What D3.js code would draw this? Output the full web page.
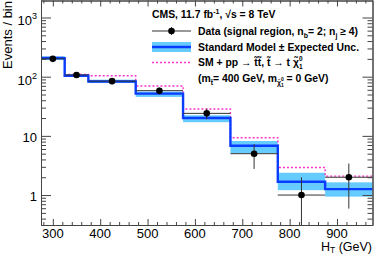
<!DOCTYPE html>
<html lang="en">
<head>
    <meta charset="UTF-8">
    <title>HT signal region</title>
    <script src="https://cdn.jsdelivr.net/npm/d3@7"></script>
    <style>
        body{
            margin: 0;
            background: #fff;
        }
        text{
            font-family: "Liberation Sans", Arial, sans-serif;
        }
        .leg{
            font-size: 10.4px;
            font-weight: bold;
        }
        .tick-lab{
            font-size: 13px;
        }
    </style>
</head>
<body>
<svg id="main" width="374" height="254"></svg>

<script>
    // bins in HT (GeV)
    let binEdges = [275, 325, 375, 475, 575, 675, 775, 875, 975];
    let binCenters = [300, 350, 425, 525, 625, 725, 825, 925];

    // observed data and stat. errors
    let dataVals = [200, 107, 84, 58, 24, 5, 1, 2];
    let dataErr = [14.1, 10.3, 9.2, 7.6, 4.9, 2.24, 1, 1.41];

    // standard model prediction with band
    let smVals = [206, 104, 83, 51.7, 20.1, 6.8, 1.68, 1.26];
    let smLow = [191, 99, 78, 45.5, 17, 5.1, 1.21, 0.94];
    let smHigh = [223, 111, 89, 56, 22.3, 8.2, 2.38, 1.64];

    // SM + stop pair signal
    let sigVals = [212, 109, 104, 69.7, 28.5, 9.3, 2.93, 2.09];

    let xTicks = [300, 400, 500, 600, 700, 800, 900];
    let yTicks = [1, 10, 100, 1000];

    let svg = d3.select("#main");

    let x = d3.scaleLinear().domain([275, 975]).range([41, 372.5]);
    let y = d3.scaleLog().domain([0.312, 1975]).range([225, 0]);

    let blue = "#0a3cff";
    let band = "#66ccff";
    let pink = "#ff33cc";
    let axisCol = "#444";

    // uncertainty band
    svg.append("g")
        .selectAll("rect")
        .data(smVals)
        .enter()
        .append("rect")
        .attr("x", (d, i) => x(binEdges[i]))
        .attr("width", (d, i) => x(binEdges[i + 1]) - x(binEdges[i]))
        .attr("y", (d, i) => y(smHigh[i]))
        .attr("height", (d, i) => y(smLow[i]) - y(smHigh[i]))
        .attr("fill", band);

    function stepPoints(vals){
        let pts = vals.map((v, i) => [binEdges[i], v]);
        pts.push([binEdges[binEdges.length - 1], vals[vals.length - 1]]);
        return pts;
    }

    let stepLine = d3.line()
        .x(d => x(d[0]))
        .y(d => y(d[1]))
        .curve(d3.curveStepAfter);

    // signal
    svg.append("path")
        .attr("d", stepLine(stepPoints(sigVals)))
        .attr("fill", "none")
        .attr("stroke", pink)
        .attr("stroke-width", 1.4)
        .attr("stroke-dasharray", "2,2");

    // SM
    svg.append("path")
        .attr("d", stepLine(stepPoints(smVals)))
        .attr("fill", "none")
        .attr("stroke", blue)
        .attr("stroke-width", 2.4);

    // data
    let gData = svg.append("g");
    gData.selectAll(".xerr")
        .data(dataVals)
        .enter()
        .append("line")
        .attr("x1", (d, i) => x(binEdges[i]))
        .attr("x2", (d, i) => x(binEdges[i + 1]))
        .attr("y1", d => y(d))
        .attr("y2", d => y(d))
        .attr("stroke", "#333")
        .attr("stroke-width", 1);
    gData.selectAll(".yerr")
        .data(dataVals)
        .enter()
        .append("line")
        .attr("x1", (d, i) => x(binCenters[i]))
        .attr("x2", (d, i) => x(binCenters[i]))
        .attr("y1", (d, i) => y(d + dataErr[i]))
        .attr("y2", (d, i) => d - dataErr[i] > 0.312 ? y(d - dataErr[i]) : 225)
        .attr("stroke", "#333")
        .attr("stroke-width", 1);
    gData.selectAll("circle")
        .data(dataVals)
        .enter()
        .append("circle")
        .attr("cx", (d, i) => x(binCenters[i]))
        .attr("cy", d => y(d))
        .attr("r", 3.3)
        .attr("fill", "#000");

    // axes
    let yMinor = [];
    [0.1, 1, 10, 100, 1000].forEach(dec => {
        for (let k = 2; k <= 9; k++){
            let v = dec * k;
            if (v > 0.312 && v < 1975) yMinor.push(v);
        }
    });
    let xMinor = d3.range(280, 975, 20).filter(v => v % 100 !== 0);

    function styleAxis(g){
        g.selectAll("path").attr("stroke", axisCol);
        g.selectAll("line").attr("stroke", axisCol);
    }

    svg.append("g").attr("transform", "translate(41,0)")
        .call(d3.axisLeft(y).tickValues(yTicks).tickSize(-10).tickFormat("").tickSizeOuter(0))
        .call(styleAxis);
    svg.append("g").attr("transform", "translate(41,0)")
        .call(d3.axisLeft(y).tickValues(yMinor).tickSize(-5).tickFormat("").tickSizeOuter(0))
        .call(styleAxis);
    svg.append("g").attr("transform", "translate(372.5,0)")
        .call(d3.axisRight(y).tickValues(yTicks).tickSize(-10).tickFormat("").tickSizeOuter(0))
        .call(styleAxis);
    svg.append("g").attr("transform", "translate(372.5,0)")
        .call(d3.axisRight(y).tickValues(yMinor).tickSize(-5).tickFormat("").tickSizeOuter(0))
        .call(styleAxis);

    svg.append("g").attr("transform", "translate(0,225)")
        .call(d3.axisBottom(x).tickValues(xTicks).tickSize(-6).tickFormat("").tickSizeOuter(0))
        .call(styleAxis);
    svg.append("g").attr("transform", "translate(0,225)")
        .call(d3.axisBottom(x).tickValues(xMinor).tickSize(-3).tickFormat("").tickSizeOuter(0))
        .call(styleAxis);
    svg.append("g").attr("transform", "translate(0,0.5)")
        .call(d3.axisTop(x).tickValues(xTicks).tickSize(-6).tickFormat("").tickSizeOuter(0))
        .call(styleAxis);
    svg.append("g").attr("transform", "translate(0,0.5)")
        .call(d3.axisTop(x).tickValues(xMinor).tickSize(-3).tickFormat("").tickSizeOuter(0))
        .call(styleAxis);

    // tick labels
    svg.append("g").selectAll("text")
        .data(xTicks)
        .enter()
        .append("text")
        .attr("class", "tick-lab")
        .attr("x", d => x(d))
        .attr("y", 238)
        .attr("text-anchor", "middle")
        .text(d => d);

    let yLab = svg.append("g");
    yTicks.forEach(v => {
        let t = yLab.append("text")
            .attr("class", "tick-lab")
            .attr("x", 37)
            .attr("y", y(v) + 6)
            .attr("text-anchor", "end");
        if (v < 100){
            t.text(v);
        } else {
            t.attr("y", y(v) + 8);
            t.append("tspan").text("10");
            t.append("tspan").attr("dy", -6).attr("font-size", "9px").text(Math.round(Math.log10(v)));
        }
    });

    // axis titles
    let xTitle = svg.append("text")
        .attr("x", 372)
        .attr("y", 250.5)
        .attr("text-anchor", "end")
        .attr("font-size", "12.5px");
    xTitle.append("tspan").text("H");
    xTitle.append("tspan").attr("dy", 2.5).attr("font-size", "8.5px").text("T");
    xTitle.append("tspan").attr("dy", -2.5).text(" (GeV)");

    svg.append("text")
        .attr("transform", "translate(12,1) rotate(-90)")
        .attr("text-anchor", "end")
        .attr("font-size", "13px")
        .text("Events / bin");

    // legend
    let leg = svg.append("g");
    let head = leg.append("text").attr("class", "leg").attr("x", 152).attr("y", 18);
    head.append("tspan").text("CMS, 11.7 fb");
    head.append("tspan").attr("dy", -4).attr("font-size", "7px").text("-1");
    head.append("tspan").attr("dy", 4).text(", \u221As = 8 TeV");

    // data entry
    leg.append("line").attr("x1", 152).attr("x2", 191).attr("y1", 31).attr("y2", 31)
        .attr("stroke", "#333");
    leg.append("line").attr("x1", 171.5).attr("x2", 171.5).attr("y1", 27).attr("y2", 35)
        .attr("stroke", "#333");
    leg.append("circle").attr("cx", 171.5).attr("cy", 31).attr("r", 3.3).attr("fill", "#000");
    let t1 = leg.append("text").attr("class", "leg").attr("x", 198).attr("y", 35);
    t1.append("tspan").text("Data (signal region, n");
    t1.append("tspan").attr("dy", 2.5).attr("font-size", "7px").text("b");
    t1.append("tspan").attr("dy", -2.5).text("= 2; n");
    t1.append("tspan").attr("dy", 2.5).attr("font-size", "7px").text("j");
    t1.append("tspan").attr("dy", -2.5).text(" \u2265 4)");

    // SM entry
    leg.append("rect").attr("x", 152).attr("y", 42).attr("width", 39).attr("height", 10).attr("fill", band);
    leg.append("line").attr("x1", 152).attr("x2", 191).attr("y1", 47).attr("y2", 47)
        .attr("stroke", blue).attr("stroke-width", 2.4);
    leg.append("text").attr("class", "leg").attr("x", 198).attr("y", 50.5)
        .text("Standard Model \u00B1 Expected Unc.");

    // signal entry
    leg.append("line").attr("x1", 152).attr("x2", 191).attr("y1", 62.5).attr("y2", 62.5)
        .attr("stroke", pink).attr("stroke-width", 1.4).attr("stroke-dasharray", "2,2");
    let t3 = leg.append("text").attr("class", "leg").attr("x", 198).attr("y", 66);
    t3.append("tspan").text("SM + pp \u2192 t\u0303t\u0303, t\u0303 \u2192 t \u03C7\u0303");
    t3.append("tspan").attr("dy", -5).attr("font-size", "6.5px").text("0");
    t3.append("tspan").attr("dx", -3.6).attr("dy", 8).attr("font-size", "6.5px").text("1");

    let t4 = leg.append("text").attr("class", "leg").attr("x", 198).attr("y", 82);
    t4.append("tspan").text("(m");
    t4.append("tspan").attr("dy", 3).attr("font-size", "7px").text("t\u0303");
    t4.append("tspan").attr("dy", -3).text("= 400 GeV, m");
    t4.append("tspan").attr("dy", 3).attr("font-size", "7px").text("\u03C7\u0303");
    t4.append("tspan").attr("dy", -4).attr("font-size", "5px").text("0");
    t4.append("tspan").attr("dx", -3).attr("dy", 6).attr("font-size", "5px").text("1");
    t4.append("tspan").attr("dy", -5).text(" = 0 GeV)");
</script>
</body>
</html>
